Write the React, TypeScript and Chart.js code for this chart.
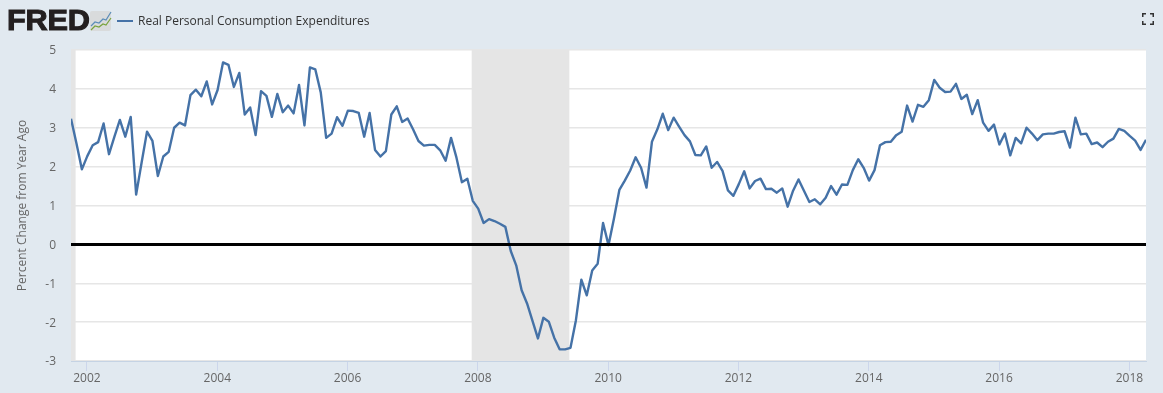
import React, { useEffect, useRef } from "react";
import { Chart, registerables } from "chart.js";

Chart.register(...registerables);

const seriesName = "Real Personal Consumption Expenditures";
const yAxisTitle = "Percent Change from Year Ago";
const firstObservation = 2001.755; // October 2001 on the chart's date axis
const axisMin = 2001.755;
const axisMax = 2018.255;
const yearTicks = [2002, 2004, 2006, 2008, 2010, 2012, 2014, 2016, 2018];
const yTicks = [-3, -2, -1, 0, 1, 2, 3, 4, 5];
const recessions = [
  [2001.0, 2001.826],
  [2007.905, 2009.404],
];
const zeroLineValue = 0;

// Monthly percent change from year ago, October 2001 to April 2018
const pceValues = [
  3.23, 2.6, 1.93, 2.27, 2.55, 2.63, 3.11, 2.32, 2.77, 3.2, 2.77, 3.28,
  1.28, 2.1, 2.9, 2.66, 1.76, 2.26, 2.38, 3.0, 3.13, 3.06, 3.84, 3.98,
  3.81, 4.19, 3.6, 3.97, 4.68, 4.62, 4.05, 4.41, 3.34, 3.52, 2.81, 3.94,
  3.82, 3.28, 3.87, 3.4, 3.57, 3.37, 4.1, 3.06, 4.55, 4.5, 3.91, 2.74,
  2.85, 3.27, 3.05, 3.44, 3.43, 3.38, 2.77, 3.38, 2.43, 2.26, 2.4, 3.34,
  3.55, 3.15, 3.24, 2.96, 2.66, 2.54, 2.56, 2.56, 2.42, 2.15, 2.74, 2.23,
  1.6, 1.69, 1.12, 0.92, 0.55, 0.65, 0.6, 0.53, 0.45, -0.17, -0.54, -1.18,
  -1.52, -1.97, -2.42, -1.89, -1.99, -2.4, -2.7, -2.7, -2.66, -1.95, -0.91, -1.31,
  -0.67, -0.5, 0.55, -0.02, 0.66, 1.4, 1.64, 1.9, 2.24, 1.97, 1.46, 2.64,
  2.96, 3.36, 2.94, 3.26, 3.03, 2.81, 2.65, 2.3, 2.29, 2.52, 1.97, 2.12,
  1.89, 1.39, 1.25, 1.55, 1.88, 1.44, 1.63, 1.69, 1.42, 1.43, 1.33, 1.44,
  0.97, 1.38, 1.67, 1.38, 1.09, 1.16, 1.03, 1.2, 1.5, 1.28, 1.54, 1.53,
  1.91, 2.19, 1.97, 1.64, 1.91, 2.55, 2.63, 2.64, 2.81, 2.9, 3.57, 3.16,
  3.59, 3.54, 3.71, 4.23, 4.03, 3.92, 3.93, 4.13, 3.74, 3.85, 3.35, 3.71,
  3.13, 2.92, 3.08, 2.57, 2.85, 2.29, 2.74, 2.6, 3.0, 2.85, 2.68, 2.83,
  2.85, 2.85, 2.89, 2.91, 2.49, 3.26, 2.83, 2.85, 2.58, 2.62, 2.5, 2.64,
  2.72, 2.97, 2.92, 2.79, 2.67, 2.43, 2.69,
];

const pagePlugin = {
  id: "fredBands",
  beforeDraw(chart: any) {
    const { ctx, chartArea: a } = chart;
    ctx.save();
    ctx.fillStyle = "#ffffff";
    ctx.fillRect(a.left, a.top, a.width, a.height);
    ctx.restore();
  },
  beforeDatasetsDraw(chart: any) {
    const { ctx, chartArea: a, scales } = chart;
    ctx.save();
    ctx.fillStyle = "#e5e5e5";
    for (const [from, to] of recessions) {
      const x0 = Math.max(scales.x.getPixelForValue(from), a.left);
      const x1 = scales.x.getPixelForValue(to);
      ctx.fillRect(x0, a.top, x1 - x0, a.height);
    }
    ctx.restore();
  },
};

export default function App() {
  const ref = useRef<HTMLCanvasElement>(null);

  useEffect(() => {
    document.body.style.margin = "0";
    const chart = new Chart(ref.current as HTMLCanvasElement, {
      type: "line",
      data: {
        datasets: [
          {
            label: "Zero",
            data: [
              { x: axisMin, y: zeroLineValue },
              { x: axisMax, y: zeroLineValue },
            ],
            borderColor: "#000000",
            borderWidth: 3,
            pointRadius: 0,
            order: 0,
          },
          {
            label: seriesName,
            data: pceValues.map((y, i) => ({ x: firstObservation + i / 12, y })),
            borderColor: "#4572a7",
            borderWidth: 2.4,
            pointRadius: 0,
            tension: 0,
            borderJoinStyle: "round",
            order: 1,
          },
        ],
      },
      options: {
        responsive: false,
        animation: false,
        events: [],
        layout: { padding: { top: 50, right: 17, left: 0, bottom: 0 } },
        plugins: { legend: { display: false }, tooltip: { enabled: false } },
        scales: {
          x: {
            type: "linear",
            min: axisMin,
            max: axisMax,
            afterBuildTicks: (s: any) => {
              s.ticks = yearTicks.map((value) => ({ value }));
            },
            afterFit: (s: any) => {
              s.height = 32;
            },
            grid: {
              drawOnChartArea: false,
              drawTicks: true,
              tickLength: 10,
              tickColor: "#ccd6eb",
              lineWidth: 1,
            },
            border: { color: "#c5d3e4", width: 1 },
            ticks: {
              callback: (v: any) => String(v),
              color: "#666666",
              font: { family: "'Open Sans'", size: 12 },
              maxRotation: 0,
              autoSkip: false,
              padding: 0,
            },
          },
          y: {
            type: "linear",
            min: -3,
            max: 5,
            afterBuildTicks: (s: any) => {
              s.ticks = yTicks.map((value) => ({ value }));
            },
            afterFit: (s: any) => {
              s.width = 71;
            },
            title: {
              display: true,
              text: yAxisTitle,
              color: "#666666",
              font: { family: "'Open Sans'", size: 12 },
              padding: { top: 15, bottom: 0 },
            },
            grid: {
              color: "#e6e6e6",
              lineWidth: 1.5,
              drawTicks: false,
            },
            border: { display: false },
            ticks: {
              callback: (v: any) => String(v),
              color: "#666666",
              font: { family: "'Open Sans'", size: 12 },
              padding: 15,
              labelOffset: 1,
            },
          },
        },
      },
      plugins: [pagePlugin],
    } as any);
    return () => chart.destroy();
  }, []);

  return (
    <div style={{ position: "relative", width: 1163, height: 393, background: "#e1e9f0", overflow: "hidden" }}>
      <canvas ref={ref} width={1163} height={393} style={{ position: "absolute", left: 0, top: 0, display: "block" }} />
      <div
        style={{
          position: "absolute",
          left: 7,
          top: 3,
          fontFamily: "'Liberation Sans', sans-serif",
          fontWeight: 700,
          fontSize: 29,
          lineHeight: "34px",
          color: "#231f20",
          letterSpacing: -0.2,
          WebkitTextStroke: "1px #231f20",
          transform: "scaleX(1.06)",
          transformOrigin: "left top",
        }}
      >
        FRED
      </div>
      <svg width={24} height={22} viewBox="0 0 24 22" style={{ position: "absolute", left: 89, top: 10 }}>
        <rect x={1} y={1} width={21} height={20} rx={2} fill="#d9dbdc" />
        <polyline points="2,16 6,12 10,13 14,9 17,10 22,2" fill="none" stroke="#5b8db8" strokeWidth={1.2} />
        <polyline points="2,20 6,16 10,17 14,14 17,15 22,8" fill="none" stroke="#79a33d" strokeWidth={1.2} />
      </svg>
      <div style={{ position: "absolute", left: 117, top: 19.5, width: 16, height: 2, background: "#4572a7" }} />
      <div
        style={{
          position: "absolute",
          left: 138,
          top: 12,
          fontFamily: "'Open Sans'",
          fontSize: 12,
          lineHeight: "17px",
          color: "#333333",
          whiteSpace: "nowrap",
        }}
      >
        {seriesName}
      </div>
      <svg width={12} height={12} viewBox="0 0 12 12" style={{ position: "absolute", left: 1142, top: 13 }}>
        <path d="M0.75 4V0.75H4 M8 0.75H11.25V4 M11.25 8V11.25H8 M4 11.25H0.75V8" fill="none" stroke="#333333" strokeWidth={1.5} />
      </svg>
    </div>
  );
}
